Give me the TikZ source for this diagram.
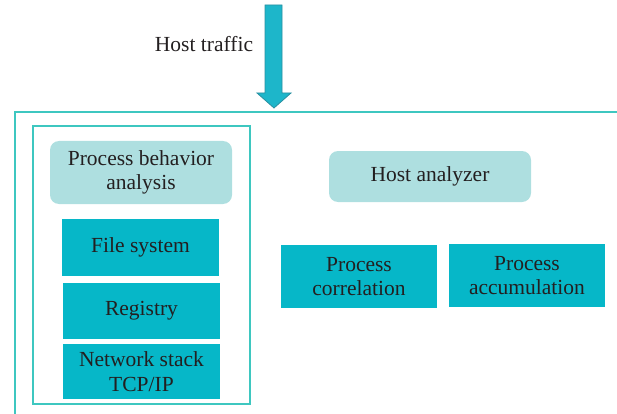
\documentclass[tikz,border=0pt]{standalone}
\usepackage{fontspec}
\setmainfont{Liberation Serif}
\definecolor{frameC}{HTML}{3EC7C0}
\definecolor{darkC}{HTML}{06B7C8}
\definecolor{lightC}{HTML}{AEDFE0}
\definecolor{arrowC}{HTML}{1DB6CA}
\definecolor{arrowE}{HTML}{2A8FA0}
\definecolor{txt}{HTML}{231F20}
\begin{document}
\begin{tikzpicture}[x=1pt,y=-1pt,
  every node/.style={font=\fontsize{21.5}{24.5}\selectfont, text=txt, align=center, inner sep=0pt},
  darkbox/.style={fill=darkC, draw=none},
  lightbox/.style={fill=lightC, draw=none, rounded corners=9pt},
  frame/.style={draw=frameC, line width=1.5pt}]
\useasboundingbox (0,0) rectangle (617,414);
\begin{scope}
\clip (0,0) rectangle (617,414);
\draw[frame] (15,112) rectangle (640,440);
\end{scope}
\draw[frame] (33,126) rectangle (250,404);
% block arrow
\draw[fill=arrowC, draw=arrowE, line width=0.8pt, line join=miter]
  (265,5) -- (282,5) -- (282,93) -- (291,93) -- (274,108) -- (257,93) -- (265,93) -- cycle;
\node (traffic) at (204,44) {Host traffic};
\node[lightbox, minimum width=182pt, minimum height=63pt] (pba) at (141,172.5) {Process behavior\\analysis};
\node[darkbox, minimum width=157pt, minimum height=57pt] (fs) at (140.5,247.5) {File system};
\node[darkbox, minimum width=157pt, minimum height=56pt] (reg) at (141.5,311) {Registry};
\node[darkbox, minimum width=157pt, minimum height=55pt] (net) at (141.5,371.5) {Network stack\\TCP/IP};
\node[lightbox, minimum width=202pt, minimum height=51pt] (ha) at (430,176.5) {Host analyzer};
\node[darkbox, minimum width=156pt, minimum height=63pt] (pc) at (359,276.5) {Process\\correlation};
\node[darkbox, minimum width=156pt, minimum height=63pt] (pa) at (527,275.5) {Process\\accumulation};
\end{tikzpicture}
\end{document}
